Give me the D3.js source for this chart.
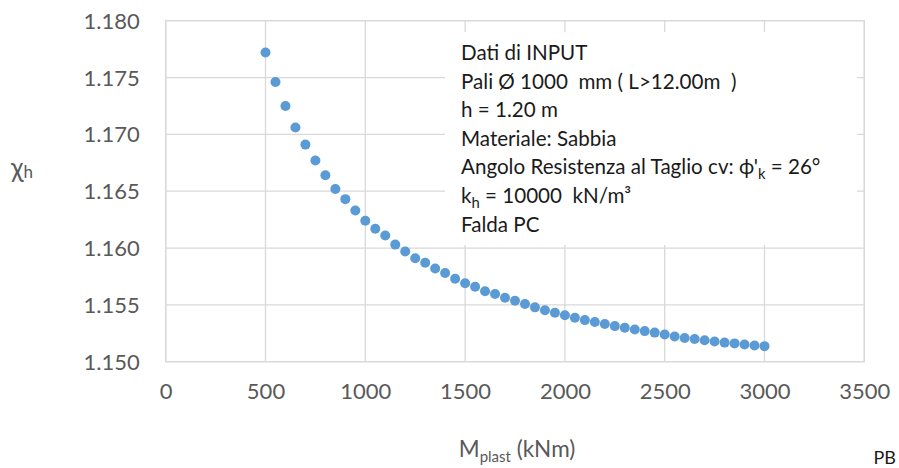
<!DOCTYPE html>
<html>
<head>
<meta charset="utf-8">
<script src="https://cdn.jsdelivr.net/npm/d3@7"></script>
<style>
  html, body { margin: 0; padding: 0; background: #fff; }
  svg { display: block; }
  text { white-space: pre; }
</style>
</head>
<body>
<svg id="chart" width="899" height="468"></svg>
<script>
// ---- data ----
const mplast = [500,550,600,650,700,750,800,850,900,950,1000,1050,1100,1150,1200,1250,1300,1350,1400,1450,
  1500,1550,1600,1650,1700,1750,1800,1850,1900,1950,2000,2050,2100,2150,2200,2250,2300,2350,2400,2450,
  2500,2550,2600,2650,2700,2750,2800,2850,2900,2950,3000];
const chiH = [1.1772,1.1746,1.1725,1.1706,1.1691,1.1677,1.1664,1.1652,1.1643,1.1633,1.1624,1.1617,1.1611,1.1603,
  1.1597,1.1591,1.1587,1.1582,1.1578,1.1573,1.1569,1.1566,1.1562,1.15595,1.15562,1.15536,1.15507,1.15478,
  1.15452,1.1543,1.15408,1.15386,1.15366,1.15349,1.15331,1.15313,1.15298,1.15284,1.15269,1.15256,1.15239,
  1.15221,1.15208,1.15199,1.15188,1.15177,1.15168,1.15161,1.15152,1.15142,1.15137];
const xTicks = [0,500,1000,1500,2000,2500,3000,3500];
const yTicks = [1.150,1.155,1.160,1.165,1.170,1.175,1.180];
const xDomain = [0,3500];
const yDomain = [1.150,1.180];
const yTitle = ["χ","h"];
const xTitle = ["M","plast"," (kNm)"];
const notes = [
  [["Dati di INPUT"]],
  [["Pali Ø 1000  mm ( L>12.00m  )"]],
  [["h = 1.20 m"]],
  [["Materiale: Sabbia"]],
  [["Angolo Resistenza al Taglio cv: ϕ'"],["k","sub"],[" = 26°"]],
  [["k"],["h","sub"],[" = 10000  kN/m³"]],
  [["Falda PC"]]
];
const author = "PB";

// ---- layout ----
const svg = d3.select("#chart");
const L = 165.7, R = 864.3, T = 20.7, B = 361.7;
const FONT = "Lato, 'Open Sans', sans-serif";
const x = d3.scaleLinear().domain(xDomain).range([L, R]);
const y = d3.scaleLinear().domain(yDomain).range([B, T]);
const gridCol = "#d9d9d9";
const labelCol = "#595959";

// gridlines
const g = svg.append("g");
g.selectAll("line.h").data(yTicks).join("line")
  .attr("x1", L).attr("x2", R)
  .attr("y1", d => y(d)).attr("y2", d => y(d))
  .attr("stroke", gridCol).attr("stroke-width", 1.3);
g.selectAll("line.v").data(xTicks).join("line")
  .attr("y1", T).attr("y2", B)
  .attr("x1", d => x(d)).attr("x2", d => x(d))
  .attr("stroke", gridCol).attr("stroke-width", 1.3);

// axes (labels only, no tick marks)
const yAxis = d3.axisLeft(y).tickValues(yTicks).tickFormat(d3.format(".3f")).tickSize(0).tickPadding(26);
const ya = svg.append("g").attr("transform", `translate(${L},0)`).call(yAxis);
ya.select(".domain").remove();
ya.selectAll("text").attr("fill", labelCol).attr("font-family", FONT).attr("font-size", 22).attr("dy", "0.34em");

const xAxis = d3.axisBottom(x).tickValues(xTicks).tickFormat(d3.format("d")).tickSize(0).tickPadding(22);
const xa = svg.append("g").attr("transform", `translate(0,${B})`).call(xAxis);
xa.select(".domain").remove();
xa.selectAll("text").attr("fill", labelCol).attr("font-family", FONT).attr("font-size", 22);

// annotation box
const boxX = 445, boxY = 32, boxW = 412, boxH = 213;
svg.append("rect").attr("x", boxX).attr("y", boxY).attr("width", boxW).attr("height", boxH).attr("fill", "#fff");
const nt = svg.append("g").attr("font-family", FONT).attr("fill", "#1a1a1a");
const lineH = 28.6, firstBase = 60, textX = 461;
let noteSize = 20.6;
notes.forEach((parts, i) => {
  const t = nt.append("text").attr("x", textX).attr("y", firstBase + i * lineH).attr("font-size", noteSize);
  parts.forEach(p => {
    const ts = t.append("tspan").text(p[0]);
    if (p[1] === "sub") ts.attr("font-size", noteSize * 0.72).attr("dy", 5);
    else if (t.selectAll("tspan").size() > 1) ts.attr("dy", -5);
  });
});

// title texts
const yt = svg.append("text").attr("x", 11).attr("y", 177).attr("fill", labelCol)
  .attr("font-family", FONT).attr("font-size", 26);
yt.append("tspan").text(yTitle[0]);
yt.append("tspan").text(yTitle[1]).attr("font-size", 17).attr("dy", 1);

const xt = svg.append("text").attr("x", 517).attr("y", 457).attr("text-anchor", "middle").attr("fill", labelCol)
  .attr("font-family", FONT).attr("font-size", 22.5);
xt.append("tspan").text(xTitle[0]);
xt.append("tspan").text(xTitle[1]).attr("font-size", 15).attr("dy", 5);
xt.append("tspan").text(xTitle[2]).attr("dy", -5);

svg.append("text").attr("x", 896).attr("y", 468 - 4).attr("text-anchor", "end").attr("fill", "#1a1a1a")
  .attr("font-family", FONT).attr("font-size", 18).text(author);

// points
svg.append("g").selectAll("circle").data(mplast).join("circle")
  .attr("cx", d => x(d)).attr("cy", (d, i) => y(chiH[i])).attr("r", 5).attr("fill", "#5b9bd5");

// border
svg.append("rect").attr("x", L).attr("y", T).attr("width", R - L).attr("height", B - T)
  .attr("fill", "none").attr("stroke", gridCol).attr("stroke-width", 1.3);
</script>
</body>
</html>
